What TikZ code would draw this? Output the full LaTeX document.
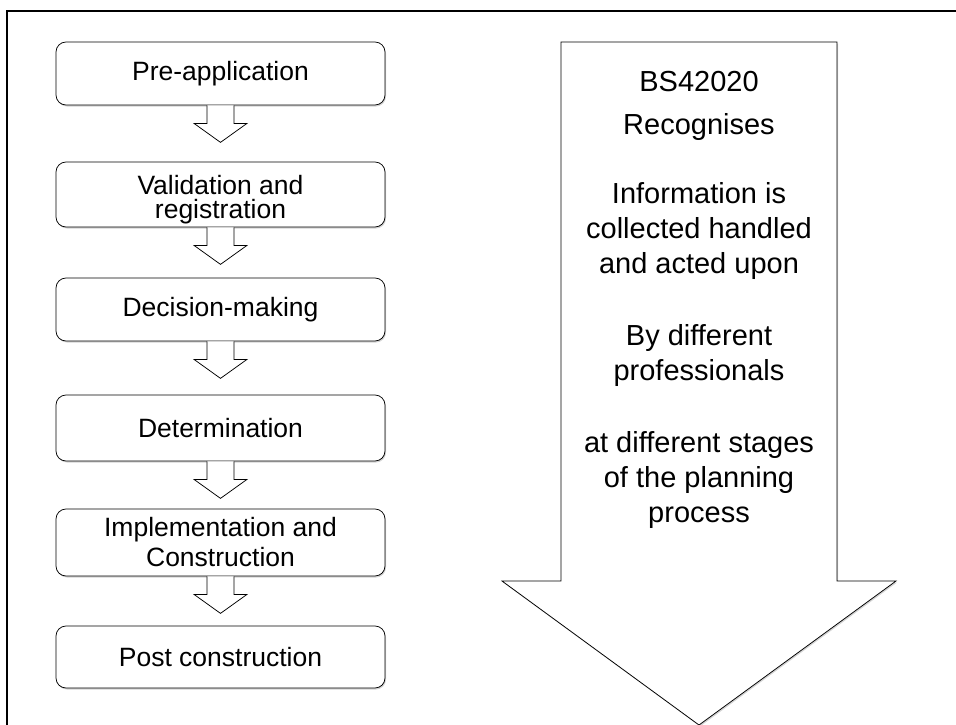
\documentclass[tikz,border=0pt]{standalone}
\usepackage{fontspec}
\setmainfont{Liberation Sans}
\usepackage{tikz}
\usetikzlibrary{shadows}

\begin{document}
\begin{tikzpicture}[
x=1pt, y=-1pt,
stage/.style={draw, line width=0.75pt, rounded corners=10pt, fill=white, minimum width=329pt,
  align=center, inner sep=0pt,
  drop shadow={shadow xshift=1pt, shadow yshift=-1.5pt, opacity=0.35},
  font=\fontsize{26.5}{30}\selectfont},
stagetext/.style={align=center, inner sep=0pt, font=\fontsize{26.5}{24}\selectfont},
blockarrow/.style={draw, line width=0.75pt, fill=white, line join=miter},
bigtext/.style={align=center, inner sep=0pt, anchor=north,
  font=\fontsize{29}{35}\selectfont}
]
    % Frame and size
    \useasboundingbox (0,0) rectangle (956,724);
    \clip (0,0) rectangle (956,724);
    \draw [line width=2pt] (7,11) rectangle (980,760);

    % Stages of the planning process
    \node [stage, minimum height=63pt] (pre)    at (220.5,73.5) {Pre-application};
    \node [stage, minimum height=65pt] (valid)  at (220.5,194.5) {};
    \node [stagetext] (validtext) at ([yshift=-5pt]valid.center) {Validation and\\registration};
    \node [stage, minimum height=63pt] (decide) at (220.5,309.5) {Decision-making};
    \node [stage, minimum height=66pt] (determ) at (220.5,428) {Determination};
    \node [stage, minimum height=67pt] (implem) at (220.5,542.5) {Implementation and\\Construction};
    \node [stage, minimum height=62pt] (post)   at (220.5,657) {Post construction};

    % Small arrows between the stages
    \foreach \a in {pre,valid,decide,determ,implem}
      \draw [blockarrow] (\a.south) ++(-13.5,0) -- ++(0,18) -- ++(-13,0)
        -- ++(26.5,19) -- ++(26.5,-19) -- ++(-13,0) -- ++(0,-18);

    % Big arrow
    \draw
      (561,42) coordinate (shaftL)
      (837,42) coordinate (shaftR)
      (699,725) coordinate (tip);
    \draw [blockarrow, drop shadow={shadow xshift=1pt, shadow yshift=-1.5pt, opacity=0.35}]
      (shaftL) -- (561,581) -- (502,581) -- (tip) -- (896,581) -- (837,581)
      -- (shaftR) -- cycle;

    \node [bigtext] (bstext) at (699,71) {BS42020\\[8pt]Recognises\\[34pt]%
      Information is\\collected handled\\and acted upon\\[37pt]%
      By different\\professionals\\[37pt]%
      at different stages\\of the planning\\process};

\end{tikzpicture}
\end{document}
